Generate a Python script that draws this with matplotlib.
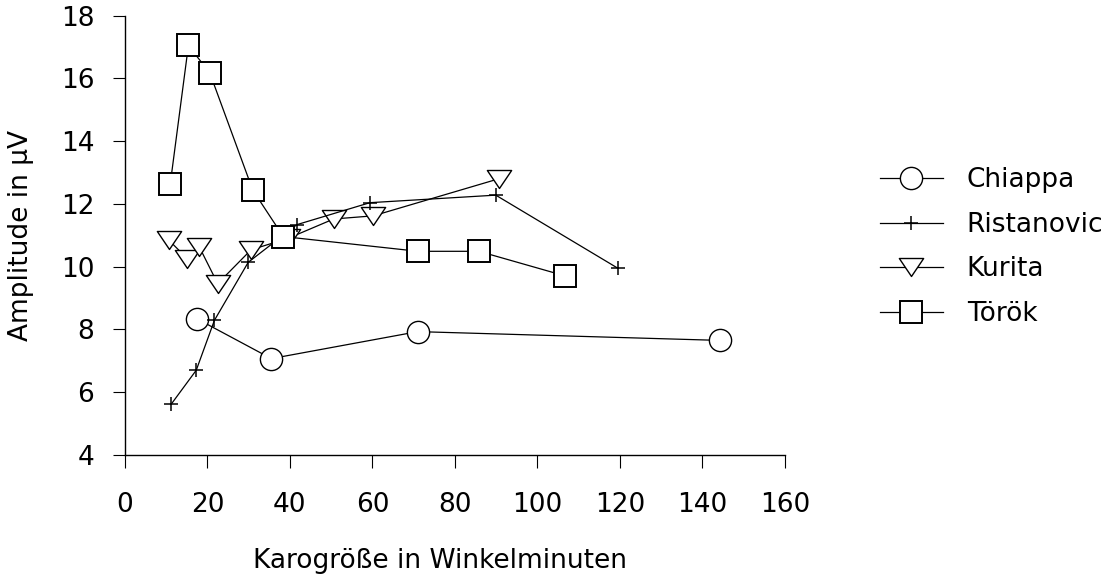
import numpy as np
from matplotlib import pyplot as plt
from matplotlib.path import Path

plt.rcParams['font.family'] = ['DejaVu Sans']

# Data
chiappa_x = [17.6, 35.5, 71.0, 144.3]
chiappa_y = [8.33, 7.07, 7.93, 7.65]

ristanovic_x = [11.3, 17.3, 21.7, 29.9, 41.7, 59.4, 89.9, 119.5]
ristanovic_y = [5.63, 6.70, 8.29, 10.14, 11.34, 12.04, 12.28, 9.95]

kurita_x = [10.7, 15.1, 18.0, 22.5, 30.6, 39.5, 50.6, 60.2, 90.6]
kurita_y = [10.84, 10.26, 10.64, 9.46, 10.54, 10.90, 11.52, 11.62, 12.80]

toeroek_x = [11.0, 15.4, 20.6, 31.0, 38.4, 71.1, 85.8, 106.6]
toeroek_y = [12.64, 17.05, 16.17, 12.44, 10.96, 10.49, 10.49, 9.71]

x_ticks = np.arange(0, 161, 20)
y_ticks = np.arange(4, 19, 2)

# flat downward triangle (wider than tall)
tri = Path([(-1, 0.74), (1, 0.74), (0, -0.74), (-1, 0.74)],
           [Path.MOVETO, Path.LINETO, Path.LINETO, Path.CLOSEPOLY])

fig = plt.figure(figsize=(11.15, 5.81), dpi=100)
ax = fig.add_axes([0.112, 0.217, 0.592, 0.756])

lw = 0.9
ax.plot(chiappa_x, chiappa_y, color='black', lw=lw, marker='o', ms=16,
        mfc='white', mec='black', mew=1.0, label='Chiappa', zorder=3)
ax.plot(ristanovic_x, ristanovic_y, color='black', lw=lw, marker='+', ms=10.5,
        mew=1.1, label='Ristanovic', zorder=4)
ax.plot(kurita_x, kurita_y, color='black', lw=lw, marker=tri, ms=17.5,
        mfc='white', mec='black', mew=1.0, label='Kurita', zorder=3)
ax.plot(toeroek_x, toeroek_y, color='black', lw=lw, marker='s', ms=16,
        mfc='white', mec='black', mew=1.4, label='Török', zorder=5)

ax.set_xlim(0, 160)
ax.set_ylim(4, 18)
ax.set_xticks(x_ticks)
ax.set_yticks(y_ticks)

ax.spines['top'].set_visible(False)
ax.spines['right'].set_visible(False)
ax.spines['left'].set_linewidth(1.0)
ax.spines['bottom'].set_linewidth(1.0)

ax.tick_params(axis='x', direction='out', length=9, width=0.8, pad=18, labelsize=19)
ax.tick_params(axis='y', direction='out', length=9, width=0.8, pad=13, labelsize=19)

ax.set_xlabel("Karogröße in Winkelminuten", fontsize=19)
ax.set_ylabel("Amplitude in µV", fontsize=19)
ax.xaxis.set_label_coords(0.477, -0.212)
ax.yaxis.set_label_coords(-0.137, 0.5)

ax.legend(loc='upper left', bbox_to_anchor=(0.789, 0.712),
          bbox_transform=fig.transFigure, frameon=False, fontsize=19,
          handlelength=2.4, handletextpad=0.9, labelspacing=0.7,
          borderpad=0, borderaxespad=0)

fig.savefig("out.png", dpi=100)
